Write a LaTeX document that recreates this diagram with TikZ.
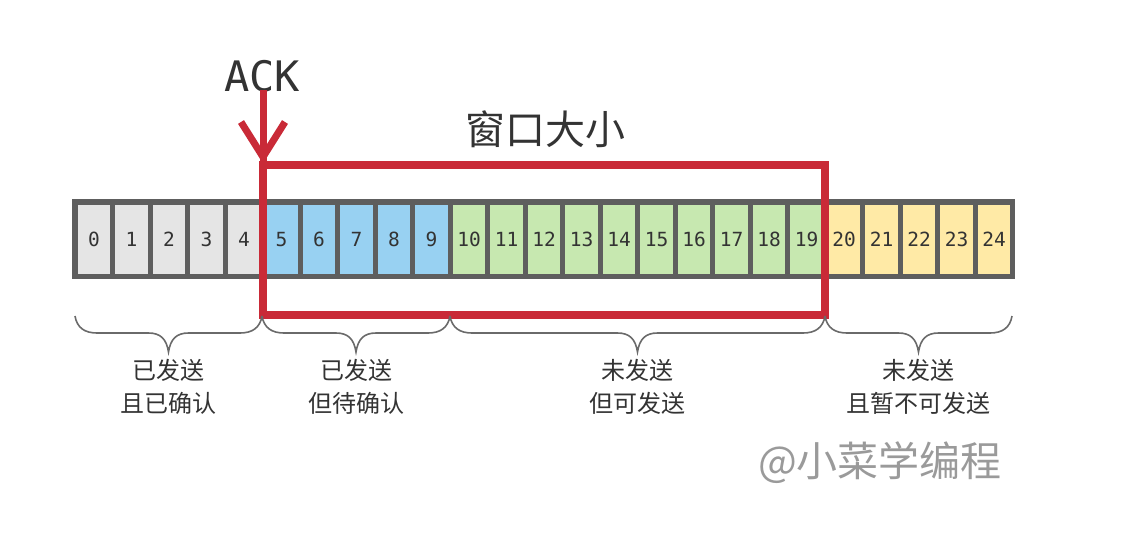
\documentclass[tikz,border=0pt]{standalone}
\usepackage{fontspec}
\setmainfont{Noto Sans CJK SC}
\newfontfamily\monofnt{DejaVu Sans Mono}
\newfontfamily\cjkfnt{Noto Sans CJK SC}
\definecolor{txt}{HTML}{333333}
\definecolor{winred}{HTML}{C92A37}
\definecolor{frame}{HTML}{5E5E5E}
\definecolor{cgray}{HTML}{E5E5E5}
\definecolor{cblue}{HTML}{98D1F2}
\definecolor{cgreen}{HTML}{C7E8B0}
\definecolor{cyellow}{HTML}{FFEAA6}
\definecolor{bracegray}{HTML}{6A6A6A}
\definecolor{wm}{HTML}{9A9A9A}
\begin{document}
\begin{tikzpicture}[x=1pt,y=-1pt,
  cell/.style={minimum width=32.3pt,minimum height=69pt,inner sep=0pt,
    font=\monofnt\fontsize{19.5}{19.5}\selectfont,text=txt},
  redline/.style={draw=winred,line width=8pt},
  bracepath/.style={draw=bracegray,line width=1.6pt},
  lbl/.style={font=\cjkfnt\fontsize{24}{33}\selectfont,text=txt,align=center}]
\useasboundingbox (0,0) rectangle (1125,544);
% frame
\node[fill=frame,minimum width=943pt,minimum height=80pt,inner sep=0pt] (strip) at (543.5,239) {};
% cells
\foreach \i in {0,...,24}{
  \ifnum\i<5 \def\cc{cgray}\else\ifnum\i<10 \def\cc{cblue}\else\ifnum\i<20 \def\cc{cgreen}\else\def\cc{cyellow}\fi\fi\fi
  \node[cell,fill=\cc] (c\i) at ({94+37.5*\i},239.5) {\i};
}
% ACK and title
\node[font=\monofnt\fontsize{42}{42}\selectfont,text=txt,anchor=base] (ack) at (262,91) {ACK};
\node[font=\cjkfnt\fontsize{40}{40}\selectfont,text=txt] (title) at (545,129) {窗口大小};
% window
\coordinate (wtl) at (263,164.5);
\coordinate (wbr) at (825,315);
\draw[redline,line join=miter] (wtl) rectangle (wbr);
% ACK arrow
\coordinate (ackstart) at (263,90);
\draw[draw=winred,line width=7pt] (ackstart) -- (wtl);
\draw[draw=winred,line width=7pt,line join=miter,miter limit=10] (241,122) -- (263,157) -- (285,122);
% braces
\foreach \a/\b [count=\k] in {75/262,262/450,450/825,825/1012}{
  \pgfmathsetmacro{\m}{(\a+\b)/2}
  \coordinate (b\k l) at (\a,316);
  \coordinate (b\k r) at (\b,316);
  \coordinate (b\k t) at (\m,352);
  \draw[bracepath] (b\k l) .. controls (\a+2,328) and (\a+10,333) .. (\a+22,333)
     -- (\m-20,333) .. controls (\m-8,333) and (\m-2,339) .. (b\k t)
     .. controls (\m+2,339) and (\m+8,333) .. (\m+20,333)
     -- (\b-22,333) .. controls (\b-10,333) and (\b-2,328) .. (b\k r);
}
\node[lbl] (l1) at (168.5,386.5) {已发送\\且已确认};
\node[lbl] (l2) at (356,386.5) {已发送\\但待确认};
\node[lbl] (l3) at (637.5,386.5) {未发送\\但可发送};
\node[lbl] (l4) at (918.5,386.5) {未发送\\且暂不可发送};
% watermark
\node[font=\cjkfnt\fontsize{41}{41}\selectfont,text=wm] (wmark) at (880,463) {@小菜学编程};
\end{tikzpicture}
\end{document}
